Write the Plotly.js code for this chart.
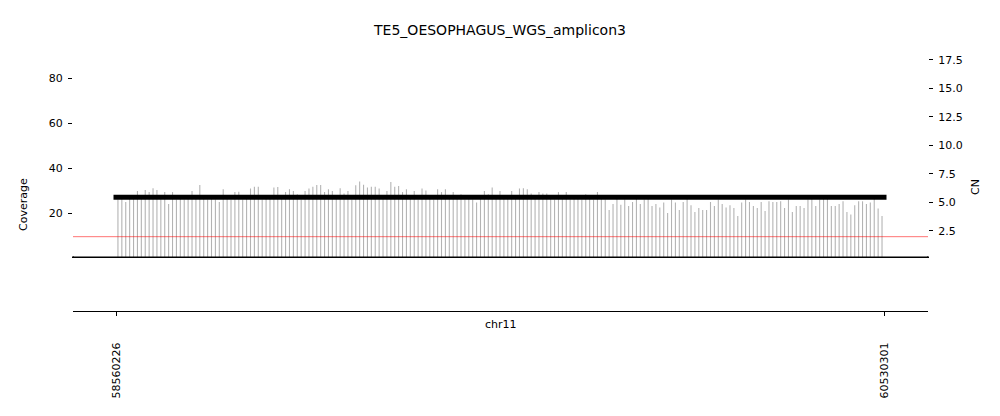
<!DOCTYPE html>
<html>
<head>
<meta charset="utf-8">
<script src="https://cdn.plot.ly/plotly-3.0.1.min.js"></script>
<style>html,body{margin:0;padding:0;background:#fff;}#chart{width:1000px;height:416px;}</style>
</head>
<body>
<div id="chart"></div>
<script>
// ---- data ----
const chromName = "chr11";
const regionStart = 58560226;
const regionEnd = 60530301;
const binSize = 10000;
const coverage = [
 26, 28, 24.9, 28, 26.5, 29.8, 28, 30.2, 29.3, 31, 30.2, 26.5, 29.3, 24, 29.3, 26, 26.5, 26, 28, 29.8,
 26.5, 32.4, 28, 26, 26.5, 26, 24.9, 30.6, 28, 26, 29.3, 29.5, 26, 26.5, 30.9, 31.7, 31.7, 26, 28, 26.5,
 31.3, 31.6, 28, 29.3, 30.6, 29.8, 28.3, 26, 29.8, 30.9, 31.7, 32.4, 32.4, 29.3, 30.6, 29.8, 26.5, 31, 28.7, 29.8,
 26, 32.3, 34, 32.6, 31.3, 31.7, 31.7, 30.9, 28, 29.8, 33.8, 31.7, 32, 29.3, 30.6, 26.5, 29.8, 26, 30.9, 30,
 26.5, 26, 30.6, 29.3, 30.6, 28, 29.3, 26.5, 28.3, 26, 26.5, 26, 24.7, 26.5, 29.8, 28.3, 31.3, 26.5, 29.8, 28,
 26.5, 29.8, 28, 30.9, 31, 30.6, 28.7, 28, 29.3, 28.7, 28.7, 26.5, 26, 29.3, 26.5, 29.3, 26, 28, 26.5, 26,
 28.3, 26.5, 26, 29.3, 26.5, 26, 21.3, 24, 26.4, 23.7, 26, 23.1, 24.9, 27.5, 24, 26, 26.5, 23.1, 24, 22.5,
 24.7, 20, 26, 24.7, 21.3, 24.9, 26.5, 23.4, 20.4, 22.2, 21.3, 21.3, 24.9, 23.1, 26, 24, 22.5, 23.4, 22.2, 18.7,
 24.7, 26, 24.9, 23.1, 22.2, 24.9, 20.9, 25.2, 24.9, 24.9, 25.2, 22.2, 26, 20.4, 23.1, 23.1, 22.2, 26, 26.5, 23.1,
 26, 26.5, 28, 23.1, 23.1, 24, 25.2, 20.4, 19.3, 23.4, 25.2, 25.2, 24, 24.7, 26.4, 22, 18.7
];
const segStart = [58560226];
const segEnd = [60530301];
const segCN = [5.45];
const neutralCN = 2;
const xTickVals = [regionStart, regionEnd];
const xTickText = ["58560226", "60530301"];
const covTicks = [20, 40, 60, 80];
const cnTicks = [2.5, 5.0, 7.5, 10.0, 12.5, 15.0, 17.5];
const cnTickText = ["2.5", "5.0", "7.5", "10.0", "12.5", "15.0", "17.5"];
const titleText = "TE5_OESOPHAGUS_WGS_amplicon3";

// ---- derived positions (bin midpoints) ----
const binMid = coverage.map((_, i) => regionStart + binSize / 2 + i * binSize);

const plotLeft = 73, plotRight = 928;
const bpPerPx = (regionEnd - regionStart) / (884 - 116);
const xMin = regionStart - (116 - plotLeft) * bpPerPx;
const xMax = regionEnd + (plotRight - 884) * bpPerPx;
const capPad = 2.5 * bpPerPx;

const font = {family: "DejaVu Sans, sans-serif", size: 11, color: "#000"};

const traces = [
  {type: "bar", x: binMid, y: coverage, width: 2800, xaxis: "x", yaxis: "y",
   marker: {color: "#b3b3b3", line: {width: 0}}, hoverinfo: "skip", showlegend: false},
  {type: "scatter", mode: "lines", xaxis: "x", yaxis: "y2",
   x: [segStart[0] - capPad, segEnd[0] + capPad], y: [segCN[0], segCN[0]],
   line: {color: "#000", width: 5}, hoverinfo: "skip", showlegend: false},
  {type: "scatter", mode: "markers", x: [regionStart], y: [0], xaxis: "x2", yaxis: "y3",
   marker: {opacity: 0}, hoverinfo: "skip", showlegend: false}
];

const axCommon = {ticks: "outside", ticklen: 4, tickwidth: 1, tickcolor: "#000",
  showline: false, showgrid: false, zeroline: false, tickfont: font, ticklabelstandoff: 3};

const layout = {
  width: 1000, height: 416,
  margin: {l: plotLeft, r: 1000 - plotRight, t: 56, b: 105},
  paper_bgcolor: "#fff", plot_bgcolor: "rgba(0,0,0,0)",
  font: font,
  title: {text: titleText, font: {family: font.family, size: 14, color: "#000"},
          x: 0.5, xanchor: "center", y: 1 - 30 / 416, yanchor: "middle"},
  xaxis: {range: [xMin, xMax], domain: [0, 1], anchor: "y", visible: false, fixedrange: true},
  yaxis: Object.assign({domain: [53 / 255, 1], range: [0, 89.8], tickvals: covTicks}, axCommon),
  yaxis2: Object.assign({overlaying: "y", side: "right", anchor: "x", range: [0.13, 17.85],
           tickvals: cnTicks, ticktext: cnTickText}, axCommon),
  xaxis2: {range: [xMin, xMax], domain: [0, 1], anchor: "y3",
           tickvals: xTickVals, ticktext: xTickText, tickangle: -90,
           ticks: "outside", ticklen: 4, tickwidth: 1, tickcolor: "#000",
           ticklabelstandoff: 22,
           showline: true, linecolor: "#000", linewidth: 1,
           showgrid: false, zeroline: false, tickfont: font},
  yaxis3: {domain: [0, 0.02], anchor: "x2", visible: false, range: [0, 1]},
  shapes: [
    {type: "line", xref: "paper", x0: 0, x1: 1, yref: "y2", y0: neutralCN, y1: neutralCN,
     line: {color: "rgba(255,0,0,0.55)", width: 1}},
    {type: "rect", xref: "paper", x0: 0, x1: 1, yref: "y", ysizemode: "pixel", yanchor: 0,
     y0: -1.5, y1: 1.5, fillcolor: "#000", line: {width: 0}},
    {type: "rect", xref: "paper", x0: 0, x1: 0, xsizemode: "pixel", xanchor: 0, x0: -1, x1: 1,
     yref: "y", ysizemode: "pixel", yanchor: 0, y0: 1.5, y1: -3.5, fillcolor: "#000", line: {width: 0}},
    {type: "rect", xref: "paper", xsizemode: "pixel", xanchor: 1, x0: -1, x1: 1,
     yref: "y", ysizemode: "pixel", yanchor: 0, y0: 1.5, y1: -3.5, fillcolor: "#000", line: {width: 0}}
  ],
  annotations: [
    {text: chromName, xref: "paper", yref: "paper", x: 0.5, y: 0, xanchor: "center", yanchor: "top",
     yshift: -5, showarrow: false, font: font},
    {text: "Coverage", xref: "paper", yref: "paper", x: 0, xshift: -49, xanchor: "center",
     y: (311 - 205) / 255, yanchor: "middle", textangle: -90, showarrow: false, font: font},
    {text: "CN", xref: "paper", yref: "paper", x: 1, xshift: 47, xanchor: "center",
     y: (311 - 187) / 255, yanchor: "middle", textangle: -90, showarrow: false, font: font}
  ]
};

Plotly.newPlot("chart", traces, layout, {displayModeBar: false, staticPlot: true});
</script>
</body>
</html>
